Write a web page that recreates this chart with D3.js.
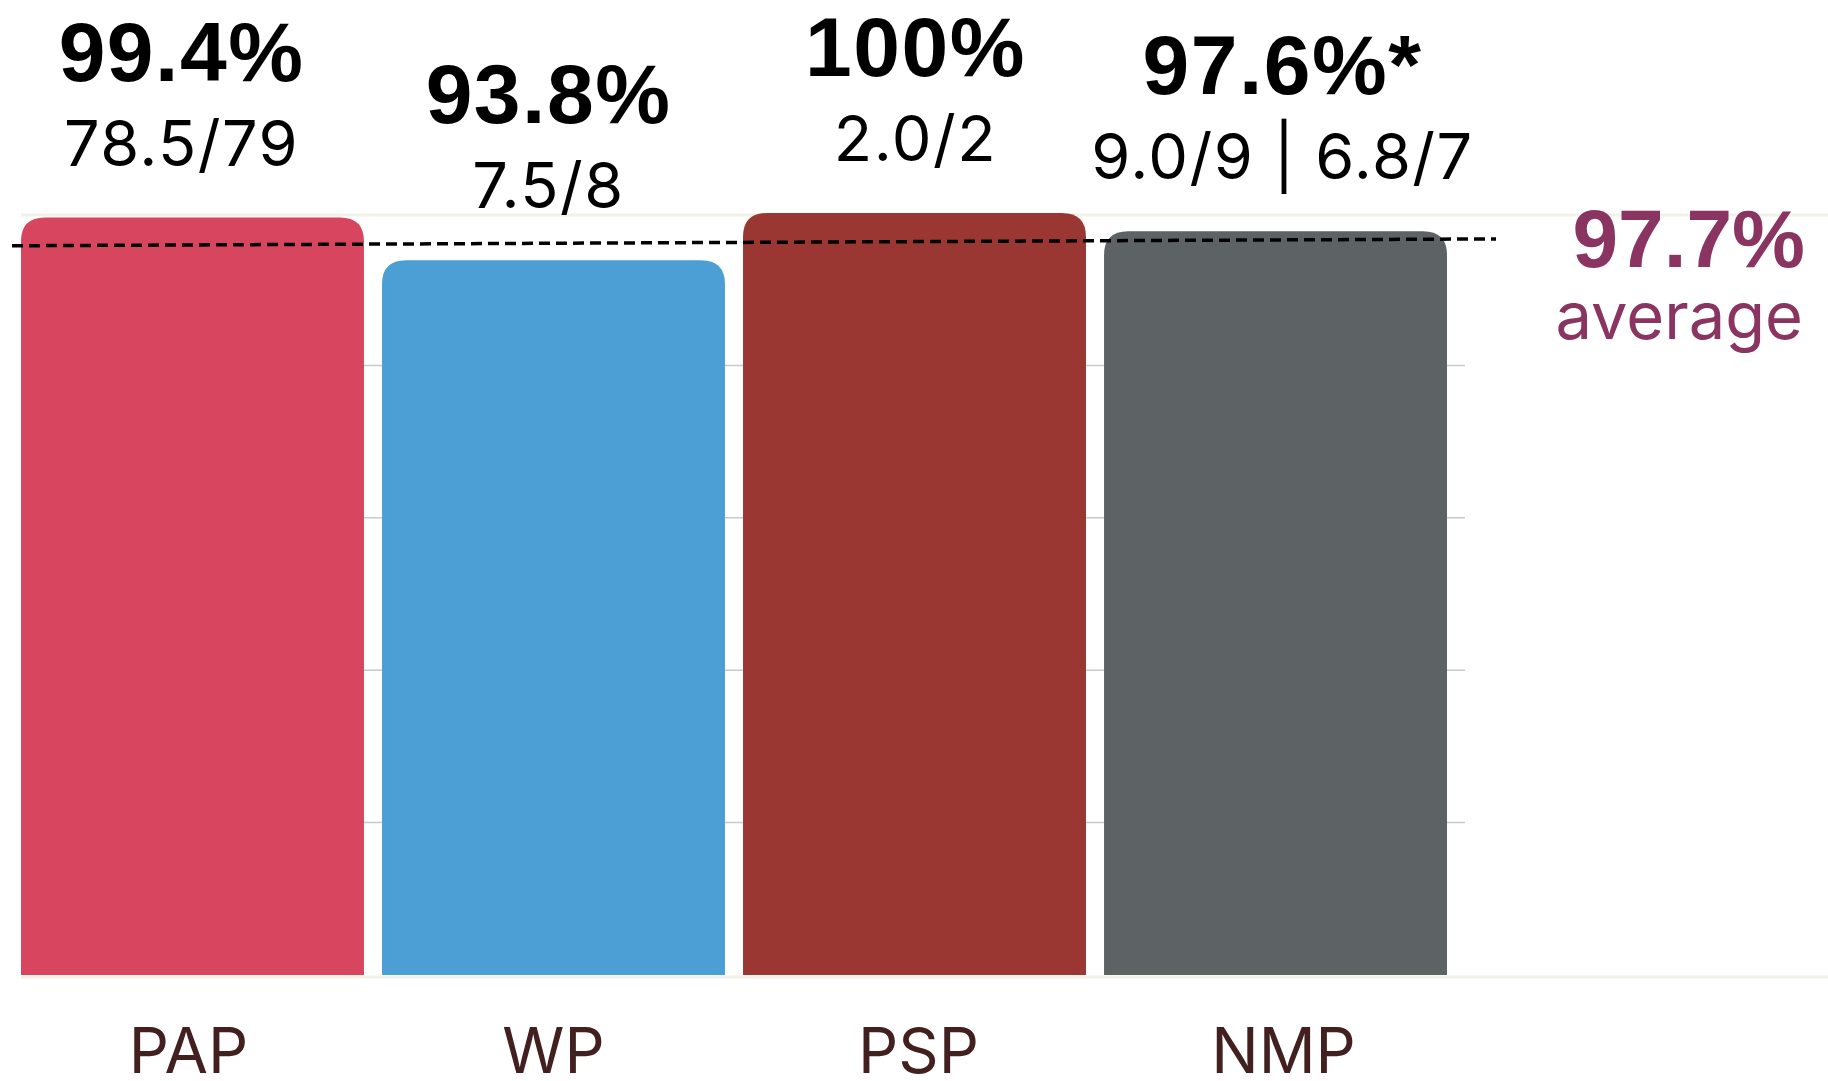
<!DOCTYPE html>
<html>
<head>
<meta charset="utf-8">
<script src="https://cdn.jsdelivr.net/npm/d3@7"></script>
<style>
  body { margin: 0; background: #fff; }
  svg { display: block; }
</style>
</head>
<body>
<svg></svg>
<script>
// Attendance rate by party
const parties = ['PAP', 'WP', 'PSP', 'NMP'];
const rates = [99.4, 93.8, 100, 97.6];
const rateLabels = ['99.4%', '93.8%', '100%', '97.6%*'];
const sittingLabels = ['78.5/79', '7.5/8', '2.0/2', '9.0/9 | 6.8/7'];
const partyColors = ['#d8455e', '#4c9fd5', '#9b3733', '#5d6265'];
const average = 97.7;
// the dashed average rule is drawn slightly tilted in the source
const averageRule = [95.7, 96.6];
const gridTicks = [20, 40, 60, 80];

const width = 1828;
const height = 1081;

const svg = d3.select('svg')
    .attr('width', width)
    .attr('height', height);

const x = d3.scaleBand()
    .domain(parties)
    .range([21, 1447])
    .paddingInner(0.05);

// labels sit on a slightly wider spacing than the bars
const xLabel = d3.scaleBand()
    .domain(parties)
    .range([-2, 1466]);

const xCat = d3.scaleBand()
    .domain(parties)
    .range([6, 1466]);

const y = d3.scaleLinear()
    .domain([0, 100])
    .range([975, 213]);

// gridlines
svg.append('g').selectAll('line')
    .data(gridTicks)
    .enter()
    .append('line')
    .attr('x1', 21)
    .attr('x2', 1465)
    .attr('y1', d => y(d))
    .attr('y2', d => y(d))
    .attr('stroke', '#c9c9c9')
    .attr('stroke-width', 1.5);

svg.append('g').selectAll('line')
    .data([0, 100])
    .enter()
    .append('line')
    .attr('x1', 21)
    .attr('x2', width)
    .attr('y1', d => y(d) + 2)
    .attr('y2', d => y(d) + 2)
    .attr('stroke', '#f1f1e7')
    .attr('stroke-width', 3);

// bars with rounded top corners
function barPath(x0, y0, w, y1, r) {
    return `M${x0},${y1}V${y0 + r}Q${x0},${y0} ${x0 + r},${y0}H${x0 + w - r}Q${x0 + w},${y0} ${x0 + w},${y0 + r}V${y1}Z`;
}

const rows = parties.map((p, i) => ({
    party: p, rate: rates[i], label: rateLabels[i], sub: sittingLabels[i], color: partyColors[i],
}));

svg.append('g').selectAll('path')
    .data(rows)
    .enter()
    .append('path')
    .attr('d', d => barPath(x(d.party), y(d.rate), x.bandwidth(), y(0), 24))
    .attr('fill', d => d.color);

// average rule
svg.append('line')
    .attr('x1', 12)
    .attr('x2', 1496)
    .attr('y1', y(averageRule[0]))
    .attr('y2', y(averageRule[1]))
    .attr('stroke', '#000')
    .attr('stroke-width', 3.5)
    .attr('stroke-dasharray', '11,6');

// value labels
const labels = svg.append('g').attr('text-anchor', 'middle');

labels.selectAll('.rate')
    .data(rows)
    .enter()
    .append('text')
    .attr('class', 'rate')
    .attr('x', d => xLabel(d.party) + xLabel.bandwidth() / 2)
    .attr('y', d => y(d.rate) - 137)
    .style('font-family', '"Liberation Sans", Arial, sans-serif')
    .style('font-weight', 700)
    .style('font-size', '84px')
    .style('letter-spacing', '1.5px')
    .text(d => d.label);

labels.selectAll('.sub')
    .data(rows)
    .enter()
    .append('text')
    .attr('class', 'sub')
    .attr('x', d => xLabel(d.party) + xLabel.bandwidth() / 2)
    .attr('y', d => y(d.rate) - 52)
    .style('font-family', 'Inter, sans-serif')
    .style('font-size', '63px')
    .style('letter-spacing', '1.5px')
    .text(d => d.sub);

// category labels
labels.selectAll('.cat')
    .data(rows)
    .enter()
    .append('text')
    .attr('class', 'cat')
    .attr('x', d => xCat(d.party) + xCat.bandwidth() / 2)
    .attr('y', 1073)
    .attr('fill', '#42201f')
    .style('font-family', 'Inter, sans-serif')
    .style('font-size', '63px')
    .text(d => d.party);

// average annotation
const avg = svg.append('g')
    .attr('text-anchor', 'end')
    .attr('fill', '#8a3461');

avg.append('text')
    .attr('x', 1805)
    .attr('y', y(average) + 36)
    .style('font-family', '"Liberation Sans", Arial, sans-serif')
    .style('font-weight', 700)
    .style('font-size', '82px')
    .text(`${average}%`);

avg.append('text')
    .attr('x', 1803)
    .attr('y', y(average) + 108)
    .style('font-family', 'Inter, sans-serif')
    .style('font-size', '65px')
    .text('average');
</script>
</body>
</html>
